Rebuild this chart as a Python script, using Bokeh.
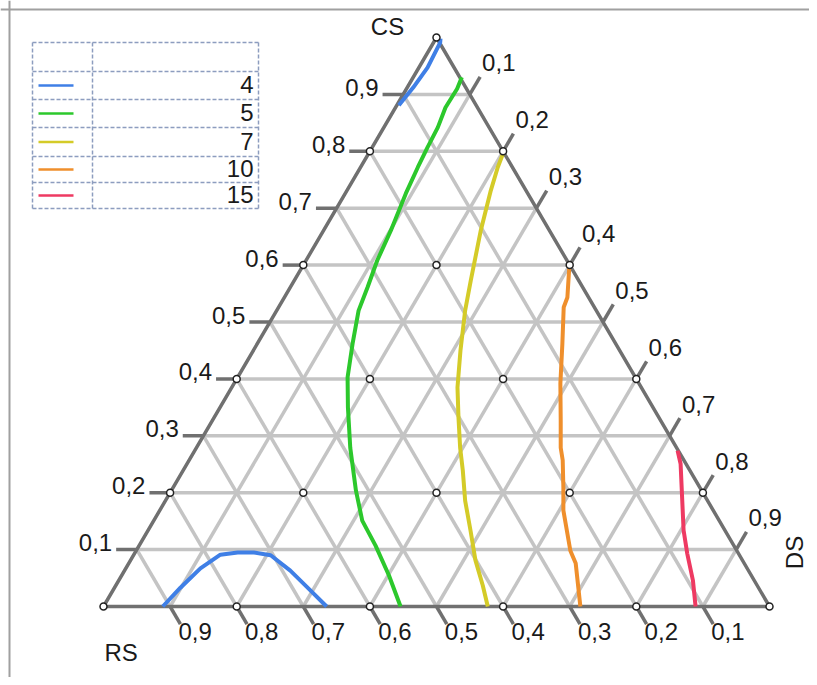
import numpy as np
from bokeh.plotting import figure
from bokeh.models import Range1d, Span
from bokeh.core.properties import value
from bokeh.embed import file_html
from bokeh.resources import INLINE

# ---------------- data ----------------
corner_names = ["RS", "CS", "DS"]
tick_values = [0.1, 0.2, 0.3, 0.4, 0.5, 0.6, 0.7, 0.8, 0.9]
tick_labels = ["0,1", "0,2", "0,3", "0,4", "0,5", "0,6", "0,7", "0,8", "0,9"]
series_names = ["4", "5", "7", "10", "15"]
series_colors = ["#3f7fe6", "#2cc82c", "#d4cb28", "#ef8f2c", "#ee3a62"]

# iso-line 4 (two branches)
cs_4_top = [0.998, 0.991, 0.947, 0.912, 0.881]
ds_4_top = [0.007, 0.010, 0.013, 0.009, 0.003]
cs_4_low = [0.0, 0.033, 0.067, 0.091, 0.095, 0.095, 0.090, 0.063, 0.028, 0.0]
ds_4_low = [0.089, 0.099, 0.112, 0.130, 0.154, 0.178, 0.206, 0.249, 0.297, 0.335]
# iso-line 5
cs_5 = [0.930, 0.910, 0.877, 0.842, 0.807, 0.772, 0.726, 0.661, 0.608, 0.561,
        0.520, 0.462, 0.403, 0.350, 0.279, 0.204, 0.151, 0.107, 0.055, 0.0]
ds_5 = [0.073, 0.076, 0.075, 0.081, 0.083, 0.086, 0.091, 0.101, 0.107, 0.116,
        0.123, 0.143, 0.165, 0.192, 0.231, 0.277, 0.313, 0.355, 0.401, 0.446]
# iso-line 7
cs_7 = [0.801, 0.772, 0.731, 0.661, 0.573, 0.520, 0.450, 0.385, 0.332, 0.279,
        0.239, 0.186, 0.134, 0.081, 0.037, 0.0]
ds_7 = [0.201, 0.206, 0.216, 0.236, 0.265, 0.283, 0.311, 0.339, 0.367, 0.396,
        0.420, 0.450, 0.484, 0.518, 0.551, 0.577]
# iso-line 10
cs_10 = [0.599, 0.543, 0.526, 0.462, 0.392, 0.327, 0.279, 0.257, 0.209, 0.169,
         0.098, 0.076, 0.0]
ds_10 = [0.400, 0.425, 0.428, 0.458, 0.490, 0.523, 0.547, 0.561, 0.586, 0.606,
         0.652, 0.671, 0.716]
# iso-line 15
cs_15 = [0.274, 0.251, 0.186, 0.134, 0.093, 0.046, 0.0]
ds_15 = [0.725, 0.741, 0.776, 0.804, 0.830, 0.862, 0.889]

series_cs = [[cs_4_top, cs_4_low], [cs_5], [cs_7], [cs_10], [cs_15]]
series_ds = [[ds_4_top, ds_4_low], [ds_5], [ds_7], [ds_10], [ds_15]]

# ---------------- geometry ----------------
W, H = 809, 677
ORIGIN_X, ORIGIN_Y = 103, 606     # canvas px of the RS corner
SCALE_X, SCALE_Y = 666, 569       # px per unit of ternary x / y
TDY = -9                          # vertical correction for text placement

FONT = "Liberation Sans"
FS = "24px"
TXT = "#1a1a1a"
EDGE = "#707070"
GRID = "#c4c4c4"


def tern(cs, ds):
    cs = np.asarray(cs, dtype=float)
    ds = np.asarray(ds, dtype=float)
    return ds + cs / 2.0, cs


def shift(x, y, dx, dy):
    return x + dx / SCALE_X, y - dy / SCALE_Y


def canvas(px, py):
    return (px - ORIGIN_X) / SCALE_X, (ORIGIN_Y - py) / SCALE_Y


p = figure(width=W, height=H, output_backend="svg", toolbar_location=None,
           x_range=Range1d(-ORIGIN_X / SCALE_X, (W - ORIGIN_X) / SCALE_X),
           y_range=Range1d(-(H - ORIGIN_Y) / SCALE_Y, ORIGIN_Y / SCALE_Y),
           min_border=0)
p.axis.visible = False
p.grid.visible = False
p.outline_line_color = None
p.background_fill_color = "white"
p.border_fill_color = "white"

# outer frame (left and top visible)
fx, fy = canvas(9, 9)
p.add_layout(Span(location=fx, dimension="height", line_color="#a0a0a0", line_width=2))
p.add_layout(Span(location=fy, dimension="width", line_color="#a0a0a0", line_width=2))

# ---------------- grid ----------------
gx, gy = [], []
for v in tick_values:
    x, y = tern([v, v], [0, 1 - v]); gx.append(list(x)); gy.append(list(y))        # constant CS
    x, y = tern([0, 1 - v], [1 - v, 0]); gx.append(list(x)); gy.append(list(y))    # constant RS
    x, y = tern([0, 1 - v], [v, v]); gx.append(list(x)); gy.append(list(y))        # constant DS
p.multi_line(gx, gy, line_color=GRID, line_width=3.5)

# ticks
t = 0.031
tx, ty = [], []
left_end, bottom_end, right_end = [], [], []
for v in tick_values:
    x, y = tern([v, v], [0, -t]); tx.append(list(x)); ty.append(list(y))
    left_end.append((x[1], y[1]))
    x, y = tern([0, -t], [1 - v, 1 - v + t]); tx.append(list(x)); ty.append(list(y))
    bottom_end.append((x[1], y[1]))
    x, y = tern([1 - v, 1 - v + t], [v, v]); tx.append(list(x)); ty.append(list(y))
    right_end.append((x[1], y[1]))
p.multi_line(tx, ty, line_color=EDGE, line_width=3.5)

# triangle edges
ex, ey = tern([0, 1, 0, 0], [0, 0, 1, 0])
p.line(ex, ey, line_color=EDGE, line_width=3.5)

# tick labels
lx, ly = zip(*[shift(a, b, -4, 2 + TDY) for a, b in left_end])
p.text(list(lx), list(ly), text=tick_labels, text_align="right", text_baseline="alphabetic",
       text_font=value(FONT), text_font_size=FS, text_color=TXT)
bx, by = zip(*[shift(a, b, -2, 16 + TDY) for a, b in bottom_end])
p.text(list(bx), list(by), text=tick_labels, text_align="left", text_baseline="alphabetic",
       text_font=value(FONT), text_font_size=FS, text_color=TXT)
rx, ry = zip(*[shift(a, b, 2, -5 + TDY) for a, b in right_end])
p.text(list(rx), list(ry), text=tick_labels, text_align="left", text_baseline="alphabetic",
       text_font=value(FONT), text_font_size=FS, text_color=TXT)

# corner labels
vx, vy = tern([1], [0])
cx, cy = shift(vx[0], vy[0], -49, -2 + TDY)
p.text([cx], [cy], text=[corner_names[1]], text_align="center", text_baseline="alphabetic",
       text_font=value(FONT), text_font_size=FS, text_color=TXT)
vx, vy = tern([0], [0])
cx, cy = shift(vx[0], vy[0], 1, 55 + TDY)
p.text([cx], [cy], text=[corner_names[0]], text_align="left", text_baseline="alphabetic",
       text_font=value(FONT), text_font_size=FS, text_color=TXT)
vx, vy = tern([0], [1])
cx, cy = shift(vx[0], vy[0], 25, -54)
p.text([cx], [cy], text=[corner_names[2]], text_align="center", text_baseline="middle",
       angle=np.pi / 2, text_font=value(FONT), text_font_size=FS, text_color=TXT)

# ---------------- series ----------------
for name, color, css, dss in zip(series_names, series_colors, series_cs, series_ds):
    for cs, ds in zip(css, dss):
        x, y = tern(cs, ds)
        p.line(x, y, line_color=color, line_width=4)

# markers at 0.2 intersections
mcs, mds = [], []
for i in range(6):
    for j in range(6 - i):
        mcs.append(0.2 * i); mds.append(0.2 * j)
mx, my = tern(mcs, mds)
p.scatter(mx, my, marker="circle", size=7, fill_color="white", line_color="#222222", line_width=1.5)

# ---------------- legend table ----------------
L, R, DIV = 32, 258, 92
rows = [42, 71, 99, 127, 156, 182, 208]
DASH = "#8d9dbf"
lgx, lgy = [], []
for r in rows:
    a, b = canvas(L, r); c, d = canvas(R, r)
    lgx.append([a, c]); lgy.append([b, d])
for cxp in (L, DIV, R):
    a, b = canvas(cxp, rows[0]); c, d = canvas(cxp, rows[-1])
    lgx.append([a, c]); lgy.append([b, d])
p.multi_line(lgx, lgy, line_color=DASH, line_width=1.5, line_dash="4 2")

for k, (name, color) in enumerate(zip(series_names, series_colors)):
    mid = (rows[k + 1] + rows[k + 2]) / 2.0
    a, b = canvas(38, mid); c, d = canvas(73, mid)
    p.line([a, c], [b, d], line_color=color, line_width=2.5)
    a, b = canvas(253, mid + 8 + TDY)
    p.text([a], [b], text=[name], text_align="right", text_baseline="alphabetic",
           text_font=value(FONT), text_font_size=FS, text_color=TXT)

open("out.html", "w").write(file_html(p, INLINE))
